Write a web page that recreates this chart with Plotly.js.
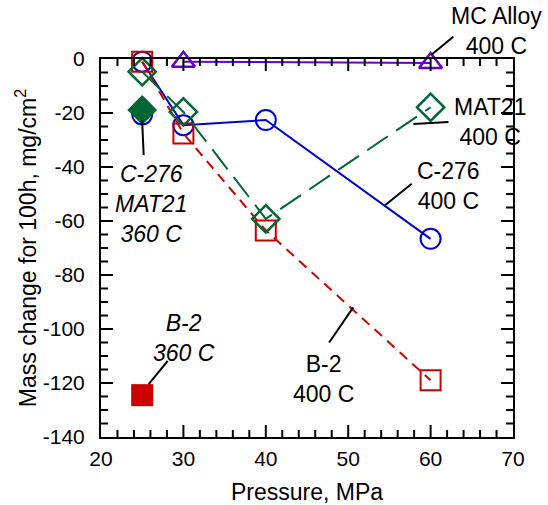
<!DOCTYPE html>
<html>
<head>
<meta charset="utf-8">
<script src="https://cdn.plot.ly/plotly-3.0.1.min.js"></script>
<style>html,body{margin:0;padding:0;background:#fff;}#chart{width:548px;height:505px;}</style>
</head>
<body>
<div id="chart"></div>
<script>
// Pressure (MPa) and mass change for 100 h (mg/cm^2)
const pressure400 = [25, 30, 40, 60];
const c276_400 = [-1, -24.5, -22.6, -66.6];
const b2_400 = [-1, -27.6, -63.5, -119];
const mat21_400 = [-4.7, -19.6, -59.2, -17.9];
const pressureMC = [30, 60];
const mc_400 = [-1, -1.5];
const pressure360 = [25];
const c276_360 = [-20.5];
const mat21_360 = [-18.9];
const b2_360 = [-124.5];

// Axis ticks and tick labels
const xTickVals = [20, 30, 40, 50, 60, 70];
const xTickText = ['20', '30', '40', '50', '60', '70'];
const yTickVals = [0, -20, -40, -60, -80, -100, -120, -140];
const yTickText = ['0', '-20', '-40', '-60', '-80', '-100', '-120', '-140'];
const xMinorVals = [22, 24, 26, 28, 32, 34, 36, 38, 42, 44, 46, 48, 52, 54, 56, 58, 62, 64, 66, 68];
const yMinorVals = [-5, -10, -15, -25, -30, -35, -45, -50, -55, -65, -70, -75, -85, -90, -95, -105, -110, -115, -125, -130, -135];

const blue = '#0000CC', red = '#CC0000', green = '#006633', purple = '#6600CC';
const FONT = 'Liberation Sans, Arial, sans-serif';

const W = 548, H = 505;
const M = {l: 101, r: 35, t: 59, b: 68};
const X0 = 20, X1 = 70, Y0 = -140, Y1 = 0;
const pxPerX = (W - M.l - M.r) / (X1 - X0);
const pxPerY = (H - M.t - M.b) / (Y1 - Y0);

const traces = [
  {x: pressure400, y: c276_400, mode: 'lines+markers', cliponaxis: false,
   line: {color: blue, width: 2},
   marker: {symbol: 'circle-open', size: 20, color: blue, line: {width: 2, color: blue}}},
  {x: pressure400, y: b2_400, mode: 'lines+markers', cliponaxis: false,
   line: {color: red, width: 2, dash: '10px,7px'},
   marker: {symbol: 'square-open', size: 20, color: red, line: {width: 2, color: red}}},
  {x: pressure400, y: mat21_400, mode: 'lines+markers', cliponaxis: false,
   line: {color: green, width: 2, dash: '25px,10px'},
   marker: {symbol: 'diamond-open', size: 21, color: green, line: {width: 2.5, color: green}}},
  {x: pressureMC, y: mc_400, mode: 'lines+markers', cliponaxis: false,
   line: {color: purple, width: 2},
   marker: {symbol: 'triangle-up-open', size: 20, color: purple, line: {width: 2.5, color: purple}}},
  {x: pressure360, y: c276_360, mode: 'markers', cliponaxis: false,
   marker: {symbol: 'circle-open', size: 20, color: blue, line: {width: 2, color: blue}}},
  {x: pressure360, y: mat21_360, mode: 'markers', cliponaxis: false,
   marker: {symbol: 'diamond', size: 23, color: green, line: {width: 0}}},
  {x: pressure360, y: b2_360, mode: 'markers', cliponaxis: false,
   marker: {symbol: 'square', size: 22, color: red, line: {width: 0}}}
];

// Inside tick marks on all four sides, placed on the axes' own data scale
const tickShapes = [];
function addXTicks(vals, lenPx) {
  const dy = lenPx / pxPerY;
  vals.forEach(v => {
    if (v === X0 || v === X1) return;
    tickShapes.push({type: 'line', x0: v, x1: v, y0: Y0, y1: Y0 + dy, line: {color: '#000', width: 2}});
    tickShapes.push({type: 'line', x0: v, x1: v, y0: Y1, y1: Y1 - dy, line: {color: '#000', width: 2}});
  });
}
function addYTicks(vals, lenPx) {
  const dx = lenPx / pxPerX;
  vals.forEach(v => {
    if (v === Y0 || v === Y1) return;
    tickShapes.push({type: 'line', y0: v, y1: v, x0: X0, x1: X0 + dx, line: {color: '#000', width: 2}});
    tickShapes.push({type: 'line', y0: v, y1: v, x0: X1, x1: X1 - dx, line: {color: '#000', width: 2}});
  });
}
addXTicks(xTickVals, 12);
addXTicks(xMinorVals, 7);
addYTicks(yTickVals, 12);
addYTicks(yMinorVals, 7);

const annFont = {family: FONT, size: 23, color: '#000'};
const annItal = {family: FONT, size: 23, color: '#000', style: 'italic'};

const leaderLines = [
  {type: 'line', xref: 'paper', yref: 'paper', x0: 0.855, y0: 1.059, x1: 0.802, y1: 1.011, line: {color: '#000', width: 2}},
  {type: 'line', x0: 57.91, y0: -24.1, x1: 62.17, y1: -23.3, line: {color: '#000', width: 2}},
  {type: 'line', x0: 54.47, y0: -54.2, x1: 57.71, y1: -46.2, line: {color: '#000', width: 2}},
  {type: 'line', x0: 47.69, y0: -105.0, x1: 50.61, y1: -92.0, line: {color: '#000', width: 2}},
  {type: 'line', x0: 25.79, y0: -120.4, x1: 28.1, y1: -111.8, line: {color: '#000', width: 2}},
  {type: 'line', x0: 24.99, y0: -22.7, x1: 25.18, y1: -35.6, line: {color: '#000', width: 2}}
];

const layout = {
  width: W, height: H,
  margin: M,
  showlegend: false,
  xaxis: {
    range: [X0, X1], tickmode: 'array', tickvals: xTickVals, ticktext: xTickText,
    showline: true, linecolor: '#000', linewidth: 2, mirror: true,
    ticks: '', showgrid: false, zeroline: false,
    ticklabelstandoff: 2,
    tickfont: {family: FONT, size: 21, color: '#000'},
    title: {text: 'Pressure, MPa', font: {family: FONT, size: 23, color: '#000'}}
  },
  yaxis: {
    range: [Y0, Y1], tickmode: 'array', tickvals: yTickVals, ticktext: yTickText,
    showline: true, linecolor: '#000', linewidth: 2, mirror: true,
    ticks: '', showgrid: false, zeroline: false,
    ticklabelstandoff: 10,
    tickfont: {family: FONT, size: 21, color: '#000'},
    title: {text: 'Mass change for 100h, mg/cm<sup>2</sup>', font: {family: FONT, size: 23, color: '#000'}}
  },
  annotations: [
    {xref: 'paper', yref: 'paper', x: 0.961, y: 1.073, xanchor: 'center', yanchor: 'middle', text: 'MC Alloy<br>400 C', showarrow: false, font: annFont, align: 'center'},
    {x: 67.24, y: -23.2, xanchor: 'center', yanchor: 'middle', text: 'MAT21<br>400 C', showarrow: false, font: annFont, align: 'center'},
    {x: 62.13, y: -47.2, xanchor: 'center', yanchor: 'middle', text: 'C-276<br>400 C', showarrow: false, font: annFont, align: 'center'},
    {x: 46.96, y: -118.5, xanchor: 'center', yanchor: 'middle', text: 'B-2<br>400 C', showarrow: false, font: annFont, align: 'center'},
    {x: 30.07, y: -103.2, xanchor: 'center', yanchor: 'middle', text: 'B-2<br>360 C', showarrow: false, font: annItal, align: 'center'},
    {x: 26.06, y: -53.8, xanchor: 'center', yanchor: 'middle', text: 'C-276<br>MAT21<br>360 C', showarrow: false, font: annItal, align: 'center'}
  ],
  shapes: tickShapes.concat(leaderLines)
};

Plotly.newPlot('chart', traces, layout, {displayModeBar: false, staticPlot: true});
</script>
</body>
</html>
